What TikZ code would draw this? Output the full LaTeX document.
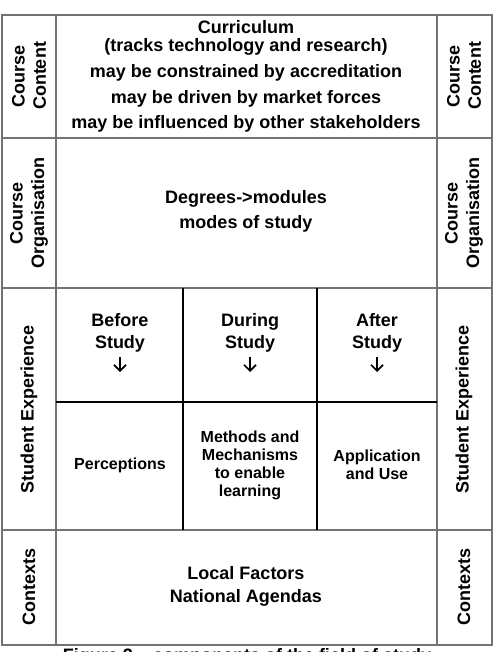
\documentclass[tikz,border=0pt]{standalone}
\usepackage{fontspec}
\usetikzlibrary{arrows.meta}
\setmainfont{Liberation Sans}
\begin{document}
\begin{tikzpicture}[x=0.75pt,y=-0.75pt,
  grid/.style={draw=black!55,line width=1.2pt},
  inner/.style={draw=black,line width=0.8pt},
  txt/.style={font=\fontsize{13.5}{15}\selectfont\bfseries,align=center,inner sep=0pt},
  small/.style={font=\fontsize{12}{13.5}\selectfont\bfseries,align=center,inner sep=0pt},
  side/.style={font=\fontsize{13.5}{16}\selectfont\bfseries,align=center,inner sep=0pt,rotate=90},
  down/.style={draw=black,line width=1.3pt,-{Straight Barb[length=4.5pt,width=9pt,line width=1.3pt]}}]
\useasboundingbox (0,0) rectangle (494,652);
\clip (0,0) rectangle (494,652);
\fill[white] (0,0) rectangle (494,652);
% grid
\draw[grid] (2,15) rectangle (492,645);
\draw[grid] (2,138) -- (492,138);
\draw[grid] (2,288) -- (492,288);
\draw[grid] (2,530) -- (492,530);
\draw[grid] (56,15) -- (56,645);
\draw[grid] (437,15) -- (437,645);
\draw[inner] (56,402) -- (437,402);
\draw[inner] (183,288) -- (183,530);
\draw[inner] (317,288) -- (317,530);
% side labels
\node[side] (lcc) at (29,76) {Course\\Content};
\node[side] (rcc) at (464,76) {Course\\Content};
\node[side] (lco) at (29,213) {Course\\Organisation};
\node[side] (rco) at (464,213) {Course\\Organisation};
\node[side] (lse) at (29,409) {Student Experience};
\node[side] (rse) at (464,409) {Student Experience};
\node[side] (lcx) at (29,587) {Contexts};
\node[side] (rcx) at (464,587) {Contexts};
% content
\node[txt] (c1) at (246,27) {Curriculum};
\node[txt] (c2) at (246,47) {(tracks technology and research)};
\node[txt] (c3) at (246,73) {may be constrained by accreditation};
\node[txt] (c4) at (246,99) {may be driven by market forces};
\node[txt] (c5) at (246,124) {may be influenced by other stakeholders};
% organisation
\node[txt] (o1) at (246,199) {Degrees->modules};
\node[txt] (o2) at (246,224) {modes of study};
% experience
\node[txt,font=\fontsize{13.5}{16}\selectfont\bfseries] (b1) at (120,333) {Before\\Study};
\node[txt,font=\fontsize{13.5}{16}\selectfont\bfseries] (d1) at (250,333) {During\\Study};
\node[txt,font=\fontsize{13.5}{16}\selectfont\bfseries] (a1) at (377,333) {After\\Study};
\coordinate (bt) at (120,357); \coordinate (bb) at (120,372);
\coordinate (dt) at (250,357); \coordinate (db) at (250,372);
\coordinate (at) at (377,357); \coordinate (ab) at (377,372);
\draw[down] (bt) -- (bb);
\draw[down] (dt) -- (db);
\draw[down] (at) -- (ab);
\node[small] (p1) at (120,465) {Perceptions};
\node[small] (m1) at (250,465) {Methods and\\Mechanisms\\to enable\\learning};
\node[small] (u1) at (377,465) {Application\\and Use};
% contexts
\node[txt] (x1) at (246,573) {Local Factors};
\node[txt] (x2) at (246,598) {National Agendas};
% caption
\node[txt,anchor=north] (cap) at (247,648) {Figure 2 – components of the field of study};
\end{tikzpicture}
\end{document}
